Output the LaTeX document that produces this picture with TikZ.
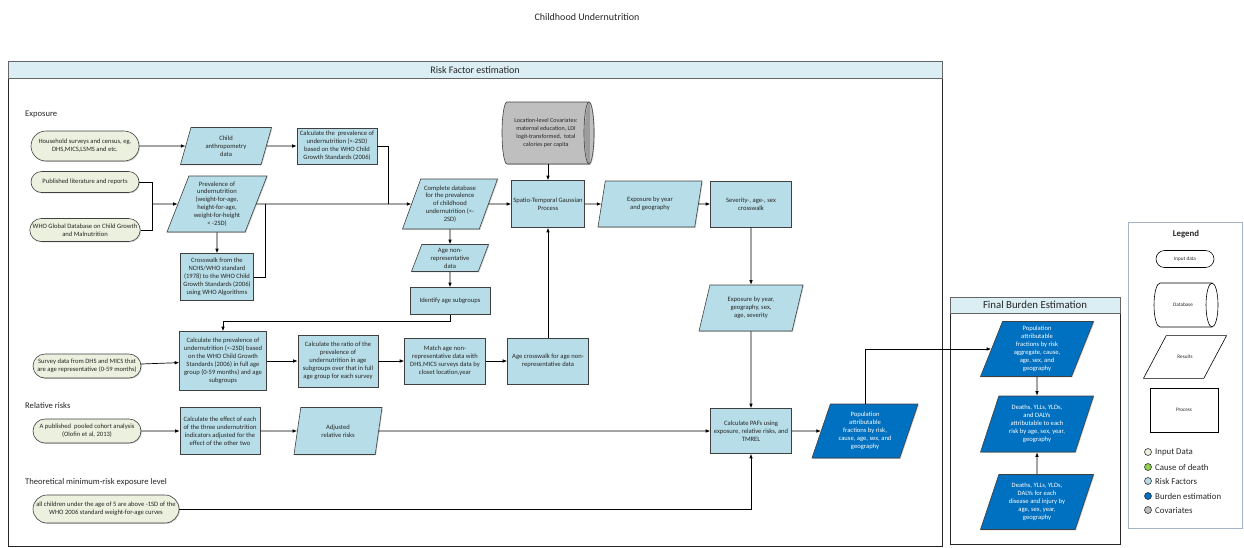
\documentclass[tikz,border=0pt]{standalone}
\usepackage{fontspec}
\setmainfont{Carlito}
\usetikzlibrary{shapes.geometric,shapes.misc,arrows.meta,shadows,calc}
\definecolor{rf}{HTML}{B7DEE8}
\definecolor{band}{HTML}{DAEEF3}
\definecolor{inpfill}{HTML}{EBF1DE}
\definecolor{burden}{HTML}{0070C0}
\definecolor{covg}{HTML}{BFBFBF}
\definecolor{cause}{HTML}{92D050}
\definecolor{edge}{HTML}{404040}
\definecolor{txt}{HTML}{262626}
\definecolor{lgframe}{HTML}{A5B6CA}
\newcommand\boxtextfont{\fontsize{6.6}{7.9}\selectfont}
\newcommand\cyltextfont{\fontsize{6.1}{7.9}\selectfont}
\newcommand\sectfont{\fontsize{8.6}{10}\selectfont}
\newcommand\headfont{\fontsize{10}{12}\selectfont}
\newcommand\fbheadfont{\fontsize{10.8}{12}\selectfont}
\newcommand\legfont{\fontsize{8.8}{10}\selectfont}
\newcommand\smallleg{\fontsize{5.2}{6}\selectfont}
% horizontal cylinder outline: #1 centre, #2 half width, #3 half height, #4 end radius, #5 options
\newcommand\hcylinder[5]{%
  \begin{scope}[shift={#1}]
    \path[#5] (-#2+#4,#3) -- (#2-#4,#3)
      arc[start angle=90, end angle=-90, x radius=#4, y radius=#3]
      -- (-#2+#4,-#3)
      arc[start angle=270, end angle=90, x radius=#4, y radius=#3] -- cycle;
    \path[#5, fill=none, drop shadow={opacity=0}] (#2-#4,#3)
      arc[start angle=90, end angle=270, x radius=#4, y radius=#3];
  \end{scope}}
\begin{document}
\begin{tikzpicture}[x=1pt,y=1pt,
  shad/.style={drop shadow={shadow xshift=0.9pt, shadow yshift=-0.9pt, fill=black, opacity=0.18}},
  base/.style={draw=edge, line width=0.6pt, align=center, font=\boxtextfont, text=txt, inner sep=1pt, shad},
  sz/.style 2 args={minimum width=#1, minimum height=#2},
  inp/.style={base, rounded rectangle, fill=inpfill},
  proc/.style={base, rectangle, fill=rf},
  res/.style={base, trapezium, trapezium left angle=65, trapezium right angle=115,
    trapezium stretches body, fill=rf},
  bres/.style={res, fill=burden, text=white},
  cyltext/.style={align=center, font=\cyltextfont, text=txt, inner sep=1pt},
  arr/.style={-{Latex[length=4.5pt,width=3.6pt]}, line width=0.7pt, draw=black},
  ln/.style={line width=0.7pt, draw=black},
  frame/.style={draw=black!85, line width=0.9pt},
  bandbox/.style={draw=black!60, line width=0.9pt, fill=band},
  sect/.style={anchor=west, font=\sectfont, text=txt, inner sep=0pt},
  lgshape/.style={draw=black, line width=0.6pt, fill=white, font=\smallleg, text=txt, inner sep=1pt},
  dot/.style={circle, draw=black!80, line width=0.6pt, minimum size=7pt, inner sep=0pt},
  lgtext/.style={anchor=west, font=\legfont, text=txt, inner sep=0pt}
]
\useasboundingbox (0,0) rectangle (1244,-547);

% title
\node[font=\headfont, text=txt] (title) at (587,-17) {Childhood Undernutrition};

% section frames
\draw[frame] (8,-61) rectangle (942,-546);
\draw[bandbox] (8,-61) rectangle (942,-78);
\node[font=\headfont, text=txt] (rfhead) at (475,-70) {Risk Factor estimation};
\draw[frame] (950,-297) rectangle (1120,-544);
\draw[bandbox] (950,-297) rectangle (1120,-313);
\node[font=\fbheadfont, text=txt] (fbhead) at (1035,-305) {Final Burden Estimation};
\draw[draw=lgframe, line width=0.8pt] (1128,-222) rectangle (1242,-528);

% section labels
\node[sect] (lexp) at (25,-114) {Exposure};
\node[sect] (lrr) at (25,-406) {Relative risks};
\node[sect] (ltm) at (25,-482) {Theoretical minimum-risk exposure level};

% exposure inputs
\node[inp, sz={110pt}{30pt}] (hh) at (85,-146) {Household surveys and census, eg.\\DHS,MICS,LSMS and etc.};
\node[inp, sz={110pt}{21pt}] (pub) at (85,-182) {Published literature and reports};
\node[inp, sz={110pt}{23pt}] (who) at (85,-230) {WHO Global Database on Child Growth\\and Malnutrition};

\node[res, sz={91pt}{37pt}] (anthro) at (226,-146) {Child\\anthropometry\\data};
\node[proc, sz={80pt}{36pt}] (calcprev) at (337,-146) {Calculate the\ \ prevalence of\\undernutrition (<-2SD)\\based on the WHO Child\\Growth Standards (2006)};
\node[res, sz={100pt}{56pt}] (prev) at (217,-204) {Prevalence of\\undernutrition\\(weight-for-age,\\height-for-age,\\weight-for-height\\< -2SD)};
\node[proc, sz={73pt}{47pt}] (cross) at (217,-277) {Crosswalk from the\\NCHS/WHO standard\\(1978) to the WHO Child\\Growth Standards (2006)\\using WHO Algorithms};

\node[res, sz={95pt}{50pt}] (compdb) at (450,-204) {Complete database\\for the prevalence\\of childhood\\undernutrition (<-\\2SD)};
\node[res, sz={77pt}{27pt}] (nonrep) at (450,-258) {Age non-\\representative\\data};
\node[proc, sz={80pt}{27pt}] (ident) at (450,-301) {Identify age subgroups};

% covariates database
\hcylinder{(548,-133)}{46}{31}{5}{draw=edge, line width=0.6pt, fill=covg, shad}
\node[cyltext, minimum width=80pt, minimum height=62pt] (cov) at (546,-133) {Location-level Covariates:\\maternal education, LDI\\logit-transformed,\ \ total\\calories per capita};
\node[proc, sz={73pt}{47pt}] (stgp) at (548,-204) {Spatio-Temporal Gaussian\\Process};
\node[res, sz={104pt}{46pt}] (expyg) at (650,-204) {Exposure by year\\and geography};
\node[proc, sz={81pt}{46pt}] (sever) at (751,-204) {Severity-, age-, sex\\crosswalk};
\node[res, sz={104pt}{46pt}] (expall) at (751,-308) {Exposure by year,\\geography, sex,\\age, severity};

% age-representative surveys
\node[inp, sz={110pt}{24pt}] (survey) at (87,-366) {Survey data from DHS and MICS that\\are age representative (0-59 months)};
\node[proc, sz={87pt}{59pt}] (calcfull) at (223,-361) {Calculate the prevalence of\\undernutrition (<-2SD) based\\on the WHO Child Growth\\Standards (2006) in full age\\group (0-59 months) and age\\subgroups};
\node[proc, sz={80pt}{52pt}] (ratio) at (338,-361) {Calculate the ratio of the\\prevalence of\\undernutrition in age\\subgroups over that in full\\age group for each survey};
\node[proc, sz={81pt}{46pt}] (match) at (445,-361) {Match age non-\\representative data with\\DHS,MICS surveys data by\\closet location,year};
\node[proc, sz={81pt}{46pt}] (agecw) at (548,-361) {Age crosswalk for age non-\\representative data};

% relative risks
\node[inp, sz={110pt}{24pt}] (cohort) at (87,-431) {A published\ \ pooled cohort analysis\\(Olofin et al, 2013)};
\node[proc, sz={80pt}{47pt}] (effect) at (220,-431) {Calculate the effect of each\\of the three undernutrition\\indicators adjusted for the\\effect of the other two};
\node[res, sz={88pt}{47pt}] (adjrr) at (338,-431) {Adjusted\\relative risks};

% TMREL
\node[inp, sz={148pt}{28pt}] (tmrel) at (106,-509) {all children under the age of 5 are above -1SD of the\\WHO 2006 standard weight-for-age curves};

% PAFs
\node[proc, sz={81pt}{45pt}] (paf) at (751,-431) {Calculate PAFs using\\exposure, relative risks, and\\TMREL};
\node[bres, sz={106pt}{54pt}] (pafres) at (865,-431) {Population\\attributable\\fractions by risk,\\cause, age, sex, and\\geography};

% final burden estimation
\node[bres, sz={113pt}{55pt}] (fb1) at (1037,-349) {Population\\attributable\\fractions by risk\\aggregate, cause,\\age, sex, and\\geography};
\node[bres, sz={113pt}{56pt}] (fb2) at (1037,-424) {Deaths, YLLs, YLDs,\\and DALYs\\attributable to each\\risk by age, sex, year,\\geography};
\node[bres, sz={113pt}{55pt}] (fb3) at (1037,-502) {Deaths, YLLs, YLDs,\\DALYs for each\\disease and injury by\\age, sex, year,\\geography};

% legend
\node[font=\legfont\bfseries, text=txt] (lgtitle) at (1186,-234) {Legend};
\node[lgshape, rounded rectangle, sz={60pt}{17pt}] (lg1) at (1185,-259) {Input data};
\hcylinder{(1186,-305)}{32}{22}{6}{draw=black, line width=0.6pt, fill=white}
\node[font=\smallleg, text=txt, inner sep=1pt] (lg2) at (1183,-305) {Database};
\node[lgshape, trapezium, trapezium left angle=62, trapezium right angle=118, trapezium stretches body,
  inner ysep=19.5pt, minimum width=83pt] (lg3) at (1185,-357) {Results};
\node[lgshape, rectangle, sz={68pt}{44pt}] (lg4) at (1184,-410) {Process};
\node[dot, fill=inpfill] (d1) at (1148,-452) {};
\node[lgtext] (t1) at (1155,-452) {Input Data};
\node[dot, fill=cause] (d2) at (1148,-467) {};
\node[lgtext] (t2) at (1155,-467) {Cause of death};
\node[dot, fill=rf] (d3) at (1148,-481) {};
\node[lgtext] (t3) at (1155,-481) {Risk Factors};
\node[dot, fill=burden] (d4) at (1148,-496) {};
\node[lgtext] (t4) at (1155,-496) {Burden estimation};
\node[dot, fill=covg] (d5) at (1148,-510) {};
\node[lgtext] (t5) at (1155,-510) {Covariates};

% junction points
\coordinate (j0) at (152,-204);
\coordinate (j1) at (388,-204);
\coordinate (j2) at (265,-204);
\coordinate (covb) at (548,-164);

% connectors
\draw[arr] (hh) -- (anthro);
\draw[arr] (anthro) -- (calcprev);
\draw[ln] (calcprev.east) -| (j1);
\draw[ln] (pub.east) -| (j0);
\draw[ln] (who.east) -| (j0);
\draw[arr] (j0) -- (prev);
\draw[arr] (prev.south) -- (cross.north);
\draw[ln] (cross.east) -| (j2);
\draw[arr] (prev) -- (compdb);
\draw[arr] (compdb) -- (stgp);
\draw[arr] (covb) -- (stgp.north);
\draw[arr] (stgp) -- (expyg);
\draw[arr] (expyg) -- (sever);
\draw[arr] (sever.south) -- (expall.north);
\draw[arr] (expall.south) -- (paf.north);
\draw[arr] (compdb.south) -- (nonrep.north);
\draw[arr] (nonrep.south) -- (ident.north);
\draw[arr] (ident.south) -- ++(0,-7) -| (calcfull.north);
\draw[arr] (survey) -- (calcfull);
\draw[arr] (calcfull) -- (ratio);
\draw[arr] (ratio) -- (match);
\draw[arr] (match) -- (agecw);
\draw[arr] (agecw.north) -- (stgp.south);
\draw[arr] (cohort) -- (effect);
\draw[arr] (effect) -- (adjrr);
\draw[arr] (adjrr) -- (paf);
\draw[arr] (tmrel.east) -| (paf.south);
\draw[arr] (paf) -- (pafres);
\draw[arr] (pafres.north) |- (fb1.west);
\draw[arr] (fb1.south) -- (fb2.north);
\draw[arr] (fb3.north) -- (fb2.south);
\end{tikzpicture}
\end{document}
